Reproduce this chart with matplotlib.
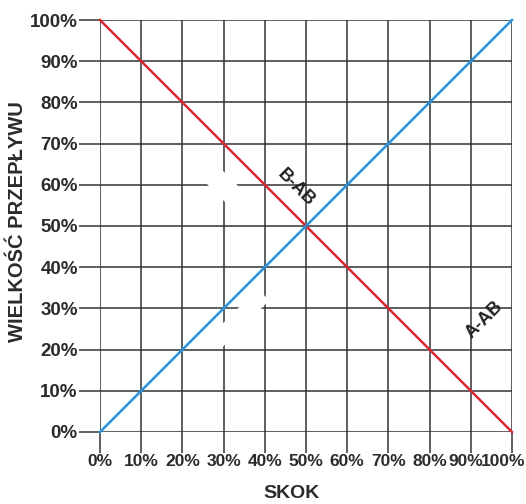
import matplotlib.pyplot as plt
from matplotlib.patches import Rectangle
import matplotlib.transforms as mtransforms

plt.rcParams['font.family'] = ['Liberation Sans', 'DejaVu Sans']
plt.rcParams['font.weight'] = 'bold'

# dane
skok = [0, 100]
a_ab = [0, 100]
b_ab = [100, 0]
ticks = list(range(0, 101, 10))
tick_labels = [f"{t}%" for t in ticks]

fig = plt.figure(figsize=(5.26, 5.04), dpi=100)
ax = fig.add_axes([100 / 526, 72 / 504, 412 / 526, 412 / 504])

ax.set_xlim(0, 100)
ax.set_ylim(0, 100)
ax.set_xticks(ticks)
ax.set_yticks(ticks)
# dwie ostatnie etykiety osobno (przesuniete w lewo, zeby sie zmiescily)
ax.set_xticklabels(tick_labels[:-2] + ['', ''], fontsize=12.5, fontweight='bold', color='#2b2b2b')
ax.set_yticklabels(tick_labels, fontsize=13.5, fontweight='bold', color='#2b2b2b')
ax.tick_params(axis='both', length=15, width=1.2, color='#444444', pad=1)
for t, lab, dx in [(ticks[-2], tick_labels[-2], -5), (ticks[-1], tick_labels[-1], -9)]:
    ax.text(t, 0, lab, fontsize=12.5, fontweight='bold', color='#2b2b2b', ha='center', va='top',
            transform=ax.get_xaxis_transform() + mtransforms.ScaledTranslation(dx / 100, -16 / 72, fig.dpi_scale_trans))
ax.grid(True, color='#333333', linewidth=1.1)
for s in ax.spines.values():
    s.set_visible(False)

# biale plamy
for (x, y, dl, sz, ang) in [(30, 59.7, 21, 5, -45), (34, 27.7, 16, 4, 45)]:
    r = Rectangle((-dl / 2, -sz / 2), dl, sz, facecolor='white', edgecolor='none', zorder=2)
    r.set_transform(mtransforms.Affine2D().rotate_deg(ang).translate(x, y) + ax.transData)
    ax.add_patch(r)

ax.plot(skok, b_ab, color='#d7282f', linewidth=1.8, zorder=3, clip_on=False)
ax.plot(skok, a_ab, color='#2597d8', linewidth=1.8, zorder=3, clip_on=False)

ax.text(47.6, 59.2, 'B-AB', rotation=-45, fontsize=13, fontweight='bold',
        color='#222222', ha='center', va='center', zorder=4)
ax.text(93.2, 27.2, 'A-AB', rotation=45, fontsize=13, fontweight='bold',
        color='#222222', ha='center', va='center', zorder=4)

ax.set_xlabel('SKOK', fontsize=14, fontweight='bold', color='#2b2b2b')
ax.set_ylabel('WIELKOŚĆ PRZEPŁYWU', fontsize=14.5, fontweight='bold', color='#2b2b2b')
ax.xaxis.set_label_coords(0.465, -0.128)
ax.yaxis.set_label_coords(-0.178, 0.51)

fig.savefig('out.png', dpi=100)
